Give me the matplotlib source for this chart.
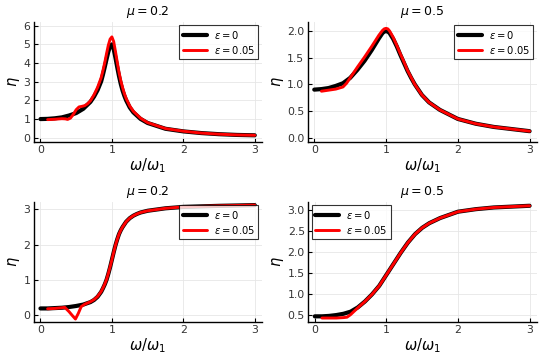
"""
Response curves of the two-mode oscillator: amplitude and phase for two
damping values, with and without the small perturbation epsilon.
"""

import matplotlib
matplotlib.use("Agg")
import matplotlib.pyplot as plt

# --- amplitude, mu = 0.2 ---
amp02_w0 = [0, 0.1, 0.2, 0.3, 0.4, 0.5, 0.6, 0.7, 0.75, 0.8, 0.85, 0.875, 0.9, 0.925, 0.95,
            0.975, 1.0, 1.025, 1.05, 1.075, 1.1, 1.125, 1.15, 1.175, 1.2, 1.25, 1.3, 1.4, 1.5,
            1.75, 2.0, 2.25, 2.5, 2.75, 3.0]
amp02_e0 = [1.00, 1.01, 1.04, 1.09, 1.19, 1.32, 1.55, 1.92, 2.2, 2.55, 3.02, 3.38, 3.78, 4.2,
            4.6, 4.9, 5.0, 4.75, 4.28, 3.77, 3.29, 2.87, 2.52, 2.24, 2.0, 1.62, 1.36, 1.01, 0.79,
            0.48, 0.34, 0.25, 0.19, 0.15, 0.13]
amp02_w1 = [0.1, 0.2, 0.3, 0.35, 0.38, 0.42, 0.46, 0.5, 0.54, 0.58, 0.62, 0.66, 0.7, 0.75, 0.8,
            0.85, 0.875, 0.9, 0.925, 0.95, 0.975, 1.0, 1.025, 1.05, 1.075, 1.1, 1.125, 1.15,
            1.175, 1.2, 1.25, 1.3, 1.4, 1.5, 1.75, 2.0, 2.25, 2.5, 2.75, 3.0]
amp02_e1 = [0.97, 0.99, 1.02, 1.01, 0.98, 1.05, 1.25, 1.5, 1.65, 1.68, 1.72, 1.82, 1.98, 2.3, 2.7,
            3.22, 3.6, 4.02, 4.5, 4.95, 5.28, 5.4, 5.15, 4.62, 4.05, 3.5, 3.05, 2.68, 2.36, 2.1,
            1.7, 1.42, 1.05, 0.81, 0.49, 0.35, 0.25, 0.19, 0.15, 0.13]

# --- amplitude, mu = 0.5 ---
amp05_w0 = [0, 0.1, 0.2, 0.3, 0.4, 0.5, 0.6, 0.7, 0.8, 0.9, 0.95, 0.975, 1.0, 1.025, 1.05,
            1.1, 1.15, 1.2, 1.25, 1.3, 1.35, 1.4, 1.45, 1.5, 1.6, 1.75, 2.0, 2.25, 2.5, 2.75, 3.0]
amp05_e0 = [0.90, 0.91, 0.93, 0.97, 1.02, 1.12, 1.27, 1.44, 1.64, 1.86, 1.96, 1.99, 2.00, 1.99,
            1.96, 1.85, 1.71, 1.55, 1.40, 1.25, 1.12, 1.0, 0.9, 0.8, 0.66, 0.52, 0.35, 0.26,
            0.2, 0.16, 0.12]
amp05_w1 = [0.1, 0.2, 0.3, 0.4, 0.45, 0.5, 0.6, 0.7, 0.8, 0.9, 0.95, 0.975, 1.0, 1.025, 1.05,
            1.1, 1.15, 1.2, 1.25, 1.3, 1.35, 1.4, 1.45, 1.5, 1.6, 1.75, 2.0, 2.25, 2.5, 2.75, 3.0]
amp05_e1 = [0.87, 0.89, 0.91, 0.95, 1.02, 1.12, 1.32, 1.51, 1.71, 1.92, 2.01, 2.04, 2.05, 2.04,
            2.0, 1.88, 1.73, 1.57, 1.42, 1.26, 1.13, 1.0, 0.9, 0.8, 0.66, 0.52, 0.35, 0.26,
            0.2, 0.16, 0.12]

# --- phase, mu = 0.2 ---
ph02_w0 = [0, 0.1, 0.2, 0.3, 0.4, 0.5, 0.6, 0.7, 0.75, 0.8, 0.85, 0.875, 0.9, 0.925, 0.95,
           0.975, 1.0, 1.025, 1.05, 1.075, 1.1, 1.125, 1.15, 1.2, 1.25, 1.3, 1.35, 1.4, 1.5,
           1.75, 2.0, 2.5, 3.0]
ph02_e0 = [0.19, 0.19, 0.20, 0.21, 0.23, 0.26, 0.30, 0.37, 0.43, 0.52, 0.66, 0.76, 0.87, 1.0,
           1.17, 1.36, 1.57, 1.78, 1.98, 2.15, 2.3, 2.41, 2.5, 2.65, 2.75, 2.82, 2.87, 2.91,
           2.96, 3.03, 3.07, 3.1, 3.12]
ph02_w1 = [0.1, 0.2, 0.3, 0.34, 0.4, 0.45, 0.49, 0.53, 0.57, 0.62, 0.7, 0.75, 0.8, 0.85, 0.875,
           0.9, 0.925, 0.95, 0.975, 1.0, 1.025, 1.05, 1.075, 1.1, 1.125, 1.15, 1.2, 1.25, 1.3,
           1.35, 1.4, 1.5, 1.75, 2.0, 2.5, 3.0]
ph02_e1 = [0.18, 0.19, 0.21, 0.22, 0.1, -0.02, -0.11, 0.05, 0.24, 0.31, 0.38, 0.44, 0.53, 0.67,
           0.77, 0.88, 1.01, 1.18, 1.37, 1.57, 1.78, 1.98, 2.15, 2.3, 2.41, 2.5, 2.65, 2.75,
           2.82, 2.87, 2.91, 2.96, 3.03, 3.07, 3.1, 3.12]

# --- phase, mu = 0.5 ---
ph05_w0 = [0, 0.1, 0.2, 0.3, 0.4, 0.5, 0.6, 0.7, 0.8, 0.9, 1.0, 1.1, 1.2, 1.3, 1.4, 1.5, 1.6,
           1.75, 2.0, 2.25, 2.5, 2.75, 3.0]
ph05_e0 = [0.48, 0.48, 0.49, 0.51, 0.54, 0.59, 0.69, 0.83, 1.0, 1.2, 1.46, 1.72, 1.98, 2.22,
           2.42, 2.57, 2.68, 2.8, 2.95, 3.01, 3.05, 3.07, 3.09]
ph05_w1 = [0.1, 0.2, 0.3, 0.4, 0.45, 0.5, 0.55, 0.6, 0.7, 0.8, 0.9, 1.0, 1.1, 1.2, 1.3, 1.4,
           1.5, 1.6, 1.75, 2.0, 2.25, 2.5, 2.75, 3.0]
ph05_e1 = [0.44, 0.44, 0.44, 0.45, 0.46, 0.52, 0.6, 0.68, 0.83, 1.0, 1.2, 1.46, 1.72, 1.98,
           2.22, 2.42, 2.57, 2.68, 2.8, 2.95, 3.01, 3.05, 3.07, 3.09]

PANELS = [
    # (title, black curve, red curve, ylim, yticks, legend loc, axes rect)
    ("$\\mu = 0.2$", (amp02_w0, amp02_e0), (amp02_w1, amp02_e1), (-0.22, 6.2),
     [0, 1, 2, 3, 4, 5, 6], "upper right", [0.063, 0.606, 0.422, 0.333]),
    ("$\\mu = 0.5$", (amp05_w0, amp05_e0), (amp05_w1, amp05_e1), (-0.08, 2.17),
     [0.0, 0.5, 1.0, 1.5, 2.0], "upper right", [0.570, 0.606, 0.424, 0.333]),
    ("$\\mu = 0.2$", (ph02_w0, ph02_e0), (ph02_w1, ph02_e1), (-0.19, 3.21),
     [0, 1, 2, 3], "upper right", [0.063, 0.106, 0.422, 0.333]),
    ("$\\mu = 0.5$", (ph05_w0, ph05_e0), (ph05_w1, ph05_e1), (0.35, 3.18),
     [0.5, 1.0, 1.5, 2.0, 2.5, 3.0], "upper left", [0.571, 0.106, 0.423, 0.333]),
]

fig = plt.figure(figsize=(5.4, 3.6), dpi=100)

for title, black, red, ylim, yticks, loc, rect in PANELS:
    ax = fig.add_axes(rect)
    ax.plot(black[0], black[1], color="black", lw=3.0, label="$\\varepsilon = 0$",
            solid_capstyle="round", solid_joinstyle="round")
    ax.plot(red[0], red[1], color="red", lw=2.1, label="$\\varepsilon = 0.05$",
            solid_capstyle="round", solid_joinstyle="round")

    ax.set_xlim(-0.09, 3.1)
    ax.set_ylim(*ylim)
    ax.set_xticks([0, 1, 2, 3])
    ax.set_yticks(yticks)
    if isinstance(yticks[0], float):
        ax.set_yticklabels([f"{t:.1f}" for t in yticks])

    ax.grid(True, color="#e6e6e6", lw=0.6)
    ax.set_axisbelow(True)
    for side in ("top", "right"):
        ax.spines[side].set_visible(False)
    for side in ("left", "bottom"):
        ax.spines[side].set_linewidth(1.0)
    ax.tick_params(direction="in", length=3, width=0.8, labelsize=7.8,
                   labelcolor="#333333", pad=2.5)

    ax.set_title(title, fontsize=9, pad=5)
    ax.set_xlabel("$\\omega/\\omega_1$", fontsize=10.5, labelpad=1)
    ax.set_ylabel("$\\eta$", fontsize=10.5, labelpad=1)

    leg = ax.legend(loc=loc, fontsize=7.2, frameon=True, fancybox=False,
                    handlelength=2.4, handletextpad=0.7, borderaxespad=0.35,
                    borderpad=0.35, labelspacing=0.3)
    leg.get_frame().set_edgecolor("black")
    leg.get_frame().set_linewidth(0.8)

plt.savefig("out.png", dpi=100)
plt.close()
